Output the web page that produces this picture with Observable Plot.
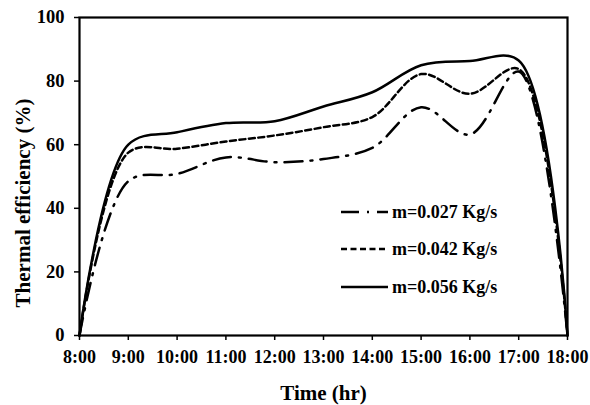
<!DOCTYPE html>
<html>
<head>
<meta charset="utf-8">
<script src="https://cdn.jsdelivr.net/npm/d3@7"></script>
<script src="https://cdn.jsdelivr.net/npm/@observablehq/plot@0.6"></script>
<style>
  html, body { margin: 0; padding: 0; background: #fff; }
  #wrap { position: relative; width: 590px; height: 405px; font-family: "Liberation Serif", "Times New Roman", serif; font-weight: bold; }
  #legend { position: absolute; left: 341px; top: 200px; }
  .row { position: absolute; left: 0; display: flex; align-items: center; white-space: nowrap; font-size: 18px; line-height: 22px; }
  .row svg { display: block; margin-right: 4px; }
  #ytitle { position: absolute; left: 23px; top: 203px; transform: translate(-50%, -50%) rotate(-90deg); white-space: nowrap; font-size: 21px; line-height: 24px; }
</style>
</head>
<body>
<div id="wrap">
  <div id="chart"></div>
  <div id="legend"></div>
  <div id="ytitle"></div>
</div>
<script>
const hours = [8, 9, 10, 11, 12, 13, 14, 15, 16, 17, 18];
const seriesNames = ["m=0.027 Kg/s", "m=0.042 Kg/s", "m=0.056 Kg/s"];
const m027 = [0, 48.5, 50.8, 56, 54.5, 55.5, 59, 71.8, 63.2, 83, 0];
const m042 = [0, 57.5, 58.7, 61, 62.9, 65.5, 68.7, 82.2, 76, 83.8, 0];
const m056 = [0, 60, 63.9, 66.8, 67.4, 72, 76.5, 85, 86.3, 86.5, 0];
const yTicks = [0, 20, 40, 60, 80, 100];
const xTitle = "Time (hr)";
const yTitle = "Thermal efficiency (%)";
const dashes = ["18,8,2,8", "6,3.5", null];

const seriesValues = [m027, m042, m056];
const rows = [];
seriesValues.forEach((vals, i) => {
  hours.forEach((h, j) => rows.push({series: seriesNames[i], hour: h, value: vals[j]}));
});

const lineMarks = seriesNames.map((name, i) =>
  Plot.line(rows.filter(d => d.series === name), {
    x: "hour", y: "value", stroke: "black", strokeWidth: 2.5,
    strokeDasharray: dashes[i] || undefined, curve: "catmull-rom"
  })
);

const chart = Plot.plot({
  width: 590,
  height: 405,
  marginLeft: 79,
  marginRight: 23,
  marginTop: 17,
  marginBottom: 70,
  style: {fontFamily: "'Liberation Serif', 'Times New Roman', serif", fontWeight: "bold", fontSize: "18px", color: "black", background: "white"},
  x: {domain: [8, 18], axis: null},
  y: {domain: [0, 100], axis: null},
  marks: [
    Plot.axisX({ticks: hours, tickSize: 5, tickPadding: 10, tickFormat: d => d + ":00", fontSize: 18, strokeWidth: 1.5, label: null}),
    Plot.axisY({ticks: yTicks, tickSize: 5, tickPadding: 10, fontSize: 18.5, strokeWidth: 1.5, label: null}),
    Plot.text([xTitle], {frameAnchor: "bottom", dy: 64, fontSize: 21, fontWeight: "bold"}),
    ...lineMarks,
    Plot.frame({stroke: "black", strokeWidth: 2.2})
  ]
});
document.getElementById("chart").appendChild(chart);
document.getElementById("ytitle").textContent = yTitle;

const legend = document.getElementById("legend");
const rowTops = [1, 38, 76];
seriesNames.forEach((name, i) => {
  const row = document.createElement("div");
  row.className = "row";
  row.style.top = rowTops[i] + "px";
  const dash = dashes[i] ? ` stroke-dasharray="${dashes[i]}"` : "";
  row.innerHTML = `<svg width="47" height="10"><line x1="0" y1="5" x2="47" y2="5" stroke="black" stroke-width="2.5"${dash}/></svg><span>${name}</span>`;
  legend.appendChild(row);
});
</script>
</body>
</html>
